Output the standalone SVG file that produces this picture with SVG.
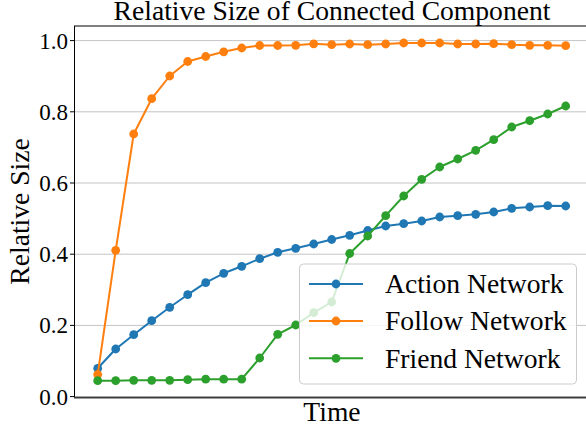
<svg xmlns="http://www.w3.org/2000/svg" width="586" height="432" viewBox="0 0 586 432">
<style>
  .title, .axlabel, .leg { font-size: 27.6px; }
  .tick { font-size: 23px; text-anchor: end; }
  .grid { stroke: #c4c4c4; stroke-width: 1; }
  .series { fill: none; stroke-width: 2; stroke-linejoin: round; }
  .blue { stroke: #1f77b4; }
  .orange { stroke: #ff7f0e; }
  .green { stroke: #2ca02c; }
</style>
<defs>
  <marker id="mb" markerUnits="userSpaceOnUse" viewBox="-5 -5 10 10" markerWidth="10" markerHeight="10" refX="0" refY="0"><circle r="4.4" fill="#1f77b4"/></marker>
  <marker id="mo" markerUnits="userSpaceOnUse" viewBox="-5 -5 10 10" markerWidth="10" markerHeight="10" refX="0" refY="0"><circle r="4.4" fill="#ff7f0e"/></marker>
  <marker id="mg" markerUnits="userSpaceOnUse" viewBox="-5 -5 10 10" markerWidth="10" markerHeight="10" refX="0" refY="0"><circle r="4.4" fill="#2ca02c"/></marker>
</defs>
<rect width="586" height="432" fill="#fff"/>
<g font-family="'Liberation Serif', 'Times New Roman', Times, serif" fill="#000">
<g id="axes">
  <g id="grid">
    <line class="grid" x1="75" y1="396.6" x2="586" y2="396.6"/>
    <line class="grid" x1="75" y1="325.4" x2="586" y2="325.4"/>
    <line class="grid" x1="75" y1="254.2" x2="586" y2="254.2"/>
    <line class="grid" x1="75" y1="183" x2="586" y2="183"/>
    <line class="grid" x1="75" y1="111.8" x2="586" y2="111.8"/>
    <line class="grid" x1="75" y1="40.6" x2="586" y2="40.6"/>
  </g>
  <g id="ticks" stroke="#000" stroke-width="1">
    <line x1="70" y1="396.6" x2="75" y2="396.6"/>
    <line x1="70" y1="325.4" x2="75" y2="325.4"/>
    <line x1="70" y1="254.2" x2="75" y2="254.2"/>
    <line x1="70" y1="183" x2="75" y2="183"/>
    <line x1="70" y1="111.8" x2="75" y2="111.8"/>
    <line x1="70" y1="40.6" x2="75" y2="40.6"/>
  </g>
  <g id="ticklabels">
    <text class="tick" x="68" y="404.5">0.0</text>
    <text class="tick" x="68" y="333.3">0.2</text>
    <text class="tick" x="68" y="262.1">0.4</text>
    <text class="tick" x="68" y="190.9">0.6</text>
    <text class="tick" x="68" y="119.7">0.8</text>
    <text class="tick" x="68" y="48.5">1.0</text>
  </g>
</g>
<g id="connectors">
  <polyline id="action" class="series blue" marker-start="url(#mb)" marker-mid="url(#mb)" marker-end="url(#mb)" points="97.7,368.3 115.7,349 133.7,334.7 151.7,320.7 169.7,307.3 187.7,294.7 205.7,282.7 223.7,273.3 241.7,266.3 259.7,258.7 277.7,252.3 295.7,248.3 313.7,244 331.7,239.5 349.7,235.3 367.7,230.5 385.7,226 403.7,223.7 421.7,221 439.7,217 457.7,215.7 475.7,214.3 493.7,212 511.7,208.3 529.7,207 547.7,205.7 565.7,206"/>
  <polyline id="follow" class="series orange" marker-start="url(#mo)" marker-mid="url(#mo)" marker-end="url(#mo)" points="97.7,374.5 115.7,250.3 133.7,134 151.7,98.7 169.7,76 187.7,61.5 205.7,56.5 223.7,51.8 241.7,48 259.7,45.5 277.7,45.5 295.7,45.3 313.7,43.8 331.7,44.7 349.7,44 367.7,44.7 385.7,44 403.7,43 421.7,43 439.7,43 457.7,44 475.7,44 493.7,43.7 511.7,44.7 529.7,45.3 547.7,45.3 565.7,45.7"/>
  <polyline id="friend" class="series green" marker-start="url(#mg)" marker-mid="url(#mg)" marker-end="url(#mg)" points="97.7,380.7 115.7,380.7 133.7,380.3 151.7,380.3 169.7,380.3 187.7,379.7 205.7,379.2 223.7,379.2 241.7,379.2 259.7,358 277.7,334.3 295.7,325 313.7,312.7 331.7,302 349.7,253.5 367.7,236 385.7,215.7 403.7,196 421.7,179.3 439.7,167 457.7,159 475.7,150.3 493.7,139.7 511.7,127 529.7,120.7 547.7,114 565.7,106"/>
</g>
<g id="spines">
  <line x1="74.5" y1="26" x2="74.5" y2="398" stroke="#000" stroke-width="1"/>
  <line x1="74" y1="26" x2="586" y2="26" stroke="#000" stroke-width="1"/>
  <line x1="74" y1="397.6" x2="586" y2="397.6" stroke="#3a3a3a" stroke-width="1.6"/>
</g>
<g id="legend">
  <rect x="299.5" y="264" width="277" height="120" rx="4" fill="#fff" fill-opacity="0.8" stroke="#cccccc" stroke-width="1"/>
  <g id="leg-action">
    <line x1="309" y1="284" x2="363" y2="284" stroke="#1f77b4" stroke-width="2"/>
    <circle cx="336" cy="284" r="4.4" fill="#1f77b4"/>
    <text class="leg" x="385" y="293.3">Action Network</text>
  </g>
  <g id="leg-follow">
    <line x1="309" y1="321" x2="363" y2="321" stroke="#ff7f0e" stroke-width="2"/>
    <circle cx="336" cy="321" r="4.4" fill="#ff7f0e"/>
    <text class="leg" x="385" y="330.3">Follow Network</text>
  </g>
  <g id="leg-friend">
    <line x1="309" y1="358.3" x2="363" y2="358.3" stroke="#2ca02c" stroke-width="2"/>
    <circle cx="336" cy="358.3" r="4.4" fill="#2ca02c"/>
    <text class="leg" x="385" y="367.6">Friend Network</text>
  </g>
</g>
<text class="title" x="332" y="20" text-anchor="middle">Relative Size of Connected Component</text>
<text class="axlabel" x="332" y="421" text-anchor="middle">Time</text>
<text class="axlabel" transform="translate(29 211.5) rotate(-90)" text-anchor="middle">Relative Size</text>
</g>
</svg>
